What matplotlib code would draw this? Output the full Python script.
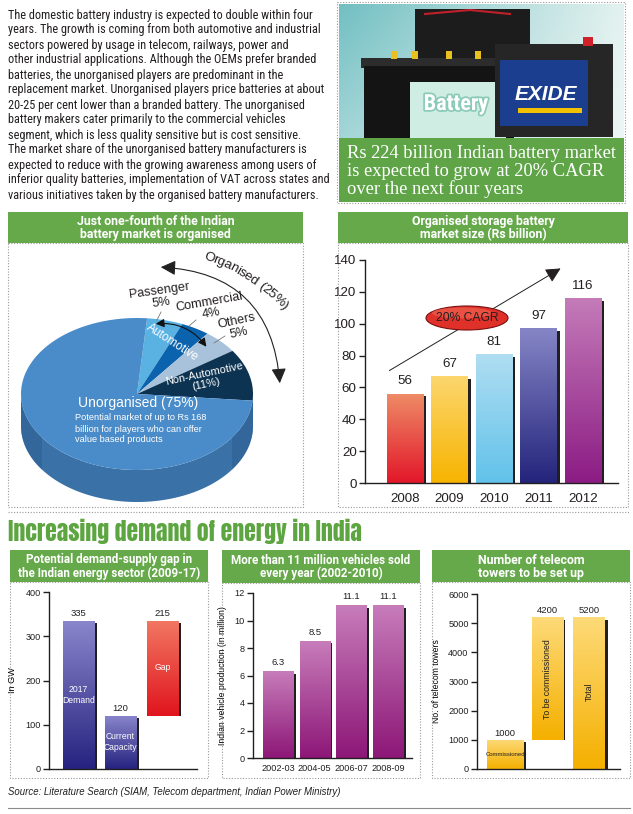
import numpy as np
import matplotlib
matplotlib.use("Agg")
import matplotlib.pyplot as plt
from matplotlib.patches import Rectangle, Polygon, Ellipse, FancyArrowPatch
from matplotlib.colors import to_rgb
from matplotlib.textpath import TextToPath
from matplotlib.font_manager import FontProperties
import matplotlib.patheffects as pe

# ---------------- data ----------------
body_lines = [
    "The domestic battery industry is expected to double within four",
    "years. The growth is coming from both automotive and industrial",
    "sectors powered by usage in telecom, railways, power and",
    "other industrial applications. Although the OEMs prefer branded",
    "batteries, the unorganised players are predominant in the",
    "replacement market. Unorganised players price batteries at about",
    "20-25 per cent lower than a branded battery. The unorganised",
    "battery makers cater primarily to the commercial vehicles",
    "segment, which is less quality sensitive but is cost sensitive.",
    "The market share of the unorganised battery manufacturers is",
    "expected to reduce with the growing awareness among users of",
    "inferior quality batteries, implementation of VAT across states and",
    "various initiatives taken by the organised battery manufacturers.",
]
caption_lines = ["Rs 224 billion Indian battery market",
                 "is expected to grow at 20% CAGR",
                 "over the next four years"]

pie_names = ["Passenger", "Commercial", "Others", "Non-Automotive", "Unorganised"]
pie_shares = [5, 4, 5, 11, 75]
pie_colors = ["#5AB2E2", "#0B63AD", "#A7C2DA", "#0C3352", "#4A8CC9"]

years = ["2008", "2009", "2010", "2011", "2012"]
market = [56, 67, 81, 97, 116]
market_top = ["#EE8C66", "#FCD66E", "#B0DEF2", "#8585C6", "#C47BB8"]
market_bot = ["#E2172A", "#F7B400", "#62C2EA", "#24247C", "#8C1C84"]

energy_cats = ["2017\nDemand", "Current\nCapacity", "Gap"]
energy_vals = [335, 120, 215]

periods = ["2002-03", "2004-05", "2006-07", "2008-09"]
vehicles = [6.3, 8.5, 11.1, 11.1]

tower_cats = ["Commissioned", "To be commissioned", "Total"]
towers = [1000, 4200, 5200]

# ---------------- figure ----------------
W, H = 633, 814
fig = plt.figure(figsize=(W / 100, H / 100), dpi=100)
fig.patch.set_facecolor("white")

NARROW = ["Roboto Condensed", "PT Sans Narrow", "Archivo Narrow", "DejaVu Sans"]
SANS = ["Liberation Sans", "DejaVu Sans"]
HEAD = ["Roboto", "DejaVu Sans"]
TITLE = ["Anton", "Oswald", "DejaVu Sans"]
GREEN = "#66A94A"


def ax_px(x0, y0, x1, y1):
    return fig.add_axes([x0 / W, 1 - y1 / H, (x1 - x0) / W, (y1 - y0) / H])


ov = fig.add_axes([0, 0, 1, 1])
ov.set_xlim(0, W)
ov.set_ylim(H, 0)
ov.axis("off")
ov.set_zorder(5)


def dotted_box(x0, y0, x1, y1):
    ov.add_patch(Rectangle((x0, y0), x1 - x0, y1 - y0, fill=False,
                           ec="#9a9a9a", lw=0.8, ls=(0, (1, 1.5))))


def header(x0, y0, x1, y1, lines, size=8.8):
    ov.add_patch(Rectangle((x0, y0), x1 - x0, y1 - y0, fc=GREEN, ec="none"))
    ov.text((x0 + x1) / 2, (y0 + y1) / 2 + 0.5, "\n".join(lines), ha="center",
            va="center", color="white", fontsize=size, fontweight="bold",
            family=HEAD, linespacing=1.0)


def curved_text(s, p0, p1, p2, size, family, color, zorder=7):
    """Place characters of s along a quadratic Bezier (pixel coords, y down)."""
    fp = FontProperties(family=family, size=size)
    ttp = TextToPath()
    widths = []
    for ch in s:
        w, _, _ = ttp.get_text_width_height_descent(ch if ch != " " else "a", fp, ismath=False)
        widths.append(w * 100 / 72 * (0.6 if ch == " " else 1.0))
    t = np.linspace(0, 1, 400)[:, None]
    P0, P1, P2 = map(np.array, (p0, p1, p2))
    pts = (1 - t) ** 2 * P0 + 2 * (1 - t) * t * P1 + t ** 2 * P2
    seg = np.hypot(*np.diff(pts, axis=0).T)
    cum = np.concatenate([[0], np.cumsum(seg)])
    scale = cum[-1] / sum(widths)
    pos = 0.0
    for ch, w in zip(s, widths):
        c = pos + w * scale / 2
        i = min(np.searchsorted(cum, c), len(pts) - 2)
        x, y = pts[i]
        dx, dy = pts[i + 1] - pts[i]
        ang = -np.degrees(np.arctan2(dy, dx))
        ov.text(x, y, ch, rotation=ang, ha="center", va="center",
                rotation_mode="anchor", fontsize=size, family=family,
                color=color, zorder=zorder)
        pos += w * scale


# ---------------- body text ----------------
for i, line in enumerate(body_lines):
    ov.text(8, 15 + i * 15.0, line, ha="left", va="center", fontsize=8.85,
            family=NARROW, color="#231F20")

# ---------------- photo box ----------------
gx = np.linspace(0, 1, 120)[None, :, None]
gy = np.linspace(0, 1, 60)[:, None, None]
c_left = np.array(to_rgb("#72BFC2"))
c_right = np.array(to_rgb("#E3F2EF"))
img = c_left * (1 - gx) + c_right * gx
img = img * (1 - 0.35 * gy) + np.array([1, 1, 1]) * 0.35 * gy
ov.imshow(img, extent=(339, 624, 138, 4), aspect="auto", zorder=1)
# back battery
ov.add_patch(Rectangle((415, 9), 115, 60, fc="#1C1C1C", ec="none", zorder=2))
ov.plot([425, 470, 510], [14, 10, 14], color="#C0202A", lw=1.5, zorder=3)
# left battery
ov.add_patch(Rectangle((361, 58), 156, 10, fc="#2C2C2C", ec="none", zorder=3))
ov.add_patch(Rectangle((364, 66), 150, 72, fc="#141414", ec="none", zorder=3))
ov.add_patch(Rectangle((410, 82), 96, 56, fc="#CFEDE3", ec="none", zorder=4))
for tx in [394, 415, 449, 478]:
    ov.add_patch(Rectangle((tx - 3, 51), 6, 8, fc="#E8C020", ec="none", zorder=4))
ov.text(456, 104, "Battery", ha="center", va="center", color="white", fontsize=16,
        fontweight="bold", family=NARROW, zorder=5,
        path_effects=[pe.withStroke(linewidth=2.5, foreground="#8CCAB8")])
# exide battery
ov.add_patch(Rectangle((495, 44), 118, 93, fc="#262626", ec="none", zorder=6))
ov.add_patch(Rectangle((500, 60), 88, 66, fc="#1B3E8E", ec="none", zorder=6))
ov.add_patch(Rectangle((518, 108), 64, 5, fc="#F2C200", ec="none", zorder=7))
ov.add_patch(Rectangle((583, 37), 10, 9, fc="#D0202A", ec="none", zorder=7))
ov.text(546, 95, "EXIDE", ha="center", va="center", color="white", fontsize=15,
        fontweight="bold", style="italic", family=SANS, zorder=7)
# caption
ov.add_patch(Rectangle((339, 138), 285, 64, fc="#5FA547", ec="none", zorder=8))
for i, line in enumerate(caption_lines):
    ov.text(347, 153 + i * 18, line, ha="left", va="center", color="white",
            fontsize=13.3, family=["Liberation Serif", "DejaVu Serif"], zorder=9)
dotted_box(337, 2, 625, 203)

# ---------------- pie panel ----------------
header(8, 212, 303, 243, ["Just one-fourth of the Indian", "battery market is organised"])
dotted_box(8, 243, 303, 507)

cx, cy, rx, ry, depth = 137, 394, 116, 76, 32


def rim(t0, t1, n=80):
    t = np.radians(np.linspace(t0, t1, n))
    return np.column_stack([cx + rx * np.cos(t), cy - ry * np.sin(t)])


# side wall (front half)
top_edge = rim(180, 360, 120)
bot_edge = top_edge + np.array([0, depth])
side = np.vstack([top_edge, bot_edge[::-1]])
ov.add_patch(Polygon(side, closed=True, fc="#3A71A7", ec="none", zorder=2))
ov.add_patch(Polygon(np.vstack([rim(180, 215, 30), (rim(180, 215, 30) + [0, depth])[::-1]]),
                     closed=True, fc="#2F6093", ec="none", zorder=2, alpha=0.6))
ov.add_patch(Polygon(np.vstack([rim(325, 360, 30), (rim(325, 360, 30) + [0, depth])[::-1]]),
                     closed=True, fc="#2F6093", ec="none", zorder=2, alpha=0.6))

start = 85.0
cursor = start
for name, share, col in zip(pie_names, pie_shares, pie_colors):
    span = share * 3.6
    t0, t1 = cursor - span, cursor
    pts = np.vstack([[cx, cy], rim(t0, t1, max(int(span), 4))])
    ov.add_patch(Polygon(pts, closed=True, fc=col, ec="none", zorder=3))
    cursor -= span

# organised arc (double headed)
arc = FancyArrowPatch((158, 267), (280, 386), connectionstyle="arc3,rad=-0.45",
                      arrowstyle="<|-|>,head_length=9,head_width=4.5", lw=0.8,
                      color="#222222", zorder=6)
ov.add_patch(arc)
curved_text("Organised (25%)", (204, 256), (244.5, 268.5), (286, 307), 9.6,
            SANS, "#231F20")

ov.text(160, 297, "Passenger\n5%", rotation=8, ha="center", va="center",
        fontsize=9.2, family=SANS, color="#231F20", linespacing=0.95, zorder=7)
ov.text(210, 308, "Commercial\n4%", rotation=10, ha="center", va="center",
        fontsize=9.2, family=SANS, color="#231F20", linespacing=0.95, zorder=7)
ov.text(238, 327, "Others\n5%", rotation=12, ha="center", va="center",
        fontsize=9.2, family=SANS, color="#231F20", linespacing=0.95, zorder=7)
for (x0, y0, x1, y1) in [(161, 312, 157, 320), (196, 320, 189, 326), (225, 336, 214, 343)]:
    ov.plot([x0, x1], [y0, y1], color="#777777", lw=0.6, zorder=7)

ov.text(172, 343, "Automotive", rotation=-33, ha="center", va="center",
        fontsize=8.5, family=SANS, color="white", zorder=7)
auto_arr = FancyArrowPatch((153, 324), (208, 349), connectionstyle="arc3,rad=-0.3",
                           arrowstyle="<|-|>,head_length=5,head_width=2.5", lw=0.8,
                           color="#111111", zorder=7)
ov.add_patch(auto_arr)
ov.text(205, 379, "Non-Automotive\n(11%)", rotation=12, ha="center", va="center",
        fontsize=7.9, family=SANS, color="white", linespacing=0.95, zorder=7)
ov.text(78, 403, "Unorganised (75%)", ha="left", va="center", fontsize=10,
        family=SANS, color="white", zorder=7)
for i, line in enumerate(["Potential market of up to Rs 168",
                          "billion for players who can offer",
                          "value based products"]):
    ov.text(75, 418 + i * 11, line, ha="left", va="center", fontsize=6.6,
            family=SANS, color="white", zorder=7)


# ---------------- bar helpers ----------------
def grad_bars(ax, xs, heights, bottoms, widths, tops, bots, dx, dy):
    xs = np.asarray(xs, float)
    heights = np.asarray(heights, float)
    bottoms = np.asarray(bottoms, float)
    ax.bar(xs + dx, heights - dy, bottom=bottoms - dy * 0.3, width=widths,
           color="#231F20", zorder=1.5, linewidth=0)
    bars = ax.bar(xs, heights, bottom=bottoms, width=widths, color=bots,
                  zorder=2, linewidth=0)
    for p, ct, cb in zip(bars.patches, tops, bots):
        x, y, w, h = p.get_x(), p.get_y(), p.get_width(), p.get_height()
        c0, c1 = np.array(to_rgb(ct)), np.array(to_rgb(cb))
        g = np.linspace(0, 1, 100)[:, None, None]
        im = ax.imshow(c0 * (1 - g) + c1 * g, extent=(x, x + w, y, y + h),
                       aspect="auto", origin="upper", zorder=2.1,
                       interpolation="bilinear")
        im.set_clip_path(p)
    return bars


def style_axes(ax, fs):
    for s in ["top", "right"]:
        ax.spines[s].set_visible(False)
    for s in ["left", "bottom"]:
        ax.spines[s].set_color("#231F20")
        ax.spines[s].set_linewidth(1.0)
    ax.tick_params(axis="y", length=4, width=1, labelsize=fs, colors="#231F20",
                   pad=2)
    ax.tick_params(axis="x", length=0, labelsize=fs, colors="#231F20")
    ax.patch.set_alpha(0)
    for lab in ax.get_xticklabels() + ax.get_yticklabels():
        lab.set_family(SANS)


# ---------------- market bar chart ----------------
header(338, 212, 628, 243, ["Organised storage battery", "market size (Rs billion)"])
dotted_box(338, 243, 628, 507)
ax1 = ax_px(365, 260, 618, 483)
xs = np.arange(len(years))
grad_bars(ax1, xs, market, np.zeros(len(years)), 0.81, market_top, market_bot,
          0.07, 1.3)
ax1.set_xlim(-0.9, 4.79)
ax1.set_ylim(0, 140)
ax1.set_yticks(np.arange(0, 141, 20))
ax1.set_xticks(xs)
ax1.set_xticklabels(years)
style_axes(ax1, 9.6)
ax1.tick_params(axis="x", pad=7)
for x, v in zip(xs, market):
    ax1.text(x, v + 4, str(v), ha="center", va="bottom", fontsize=9.6,
             family=SANS, color="#231F20")
ov.annotate("", xy=(563, 267), xytext=(387, 372),
            arrowprops=dict(arrowstyle="-|>,head_length=0.9,head_width=0.45",
                            color="#231F20", lw=0.7), zorder=6)
ell = Ellipse((467, 318), 82, 24, fc="#E0302A", ec="#7A1010", lw=0.8, zorder=7)
ov.add_patch(ell)
ell_hi = Ellipse((462, 313), 60, 11, fc="#F06A55", ec="none", zorder=7, alpha=0.6)
ov.add_patch(ell_hi)
ov.text(467, 318, "20% CAGR", ha="center", va="center", fontsize=8.7,
        family=SANS, color="#231F20", zorder=8)

# ---------------- section title ----------------
ov.plot([8, 630], [512, 512], color="#9a9a9a", lw=0.8, ls=(0, (1, 1.5)))
ov.text(8, 531, "Increasing demand of energy in India", ha="left", va="center",
        fontsize=17.0, family=TITLE, color="#5DA540")

# ---------------- energy gap chart ----------------
header(10, 550, 208, 582, ["Potential demand-supply gap in",
                           "the Indian energy sector (2009-17)"], size=8.4)
dotted_box(10, 582, 208, 778)
ax2 = ax_px(49, 592, 197, 769)
ex = np.arange(3)
e_bottoms = [0, 0, energy_vals[1]]
e_heights = [energy_vals[0], energy_vals[1], energy_vals[2]]
grad_bars(ax2, ex, e_heights, e_bottoms, 0.74,
          ["#8A86CC", "#8A86CC", "#F27862"], ["#25237F", "#25237F", "#E0141E"],
          0.07, 4)
ax2.set_xlim(-0.70, 2.82)
ax2.set_ylim(0, 400)
ax2.set_yticks([0, 100, 200, 300, 400])
ax2.set_xticks([])
style_axes(ax2, 6.6)
ax2.set_ylabel("In GW", fontsize=6.6, family=SANS, labelpad=6)
for x, b, h, v in zip(ex, e_bottoms, e_heights, energy_vals):
    ax2.text(x, b + h + 6, str(v), ha="center", va="bottom", fontsize=6.8,
             family=SANS, color="#231F20")
for x, y, t in zip(ex, [167, 61, 230], energy_cats):
    ax2.text(x, y, t, ha="center", va="center", fontsize=6.2, family=SANS,
             color="white", linespacing=1.3, zorder=4)

# ---------------- vehicle chart ----------------
header(222, 550, 420, 583, ["More than 11 million vehicles sold",
                            "every year (2002-2010)"], size=8.4)
dotted_box(222, 583, 420, 778)
ax3 = ax_px(253, 593, 412, 758)
vx = np.arange(len(periods))
grad_bars(ax3, vx, vehicles, np.zeros(len(periods)), 0.82,
          ["#C77CBA"] * 4, ["#8D1777"] * 4, 0.07, 0.12)
ax3.set_xlim(-0.68, 3.65)
ax3.set_ylim(0, 12)
ax3.set_yticks(np.arange(0, 13, 2))
ax3.set_xticks(vx)
ax3.set_xticklabels(periods)
style_axes(ax3, 6.6)
ax3.tick_params(axis="x", pad=4)
ax3.set_ylabel("Indian vehicle production (in million)", fontsize=6.2,
               family=SANS, labelpad=5)
for x, v in zip(vx, vehicles):
    ax3.text(x, v + 0.3, f"{v}", ha="center", va="bottom", fontsize=6.8,
             family=SANS, color="#231F20")

# ---------------- telecom towers chart ----------------
header(432, 550, 630, 582, ["Number of telecom", "towers to be set up"], size=8.9)
dotted_box(432, 582, 630, 778)
ax4 = ax_px(477, 594, 620, 769)
tx = np.arange(3)
t_bottoms = [0, towers[0], 0]
grad_bars(ax4, tx, towers, t_bottoms, [0.86, 0.74, 0.76],
          ["#FDDA78"] * 3, ["#F5B000"] * 3, 0.07, 60)
ax4.set_xlim(-0.67, 2.74)
ax4.set_ylim(0, 6000)
ax4.set_yticks(np.arange(0, 6001, 1000))
ax4.set_xticks([])
style_axes(ax4, 6.6)
ax4.set_ylabel("No. of telecom towers", fontsize=6.2, family=SANS, labelpad=5)
for x, b, v in zip(tx, t_bottoms, towers):
    ax4.text(x, b + v + 80, str(v), ha="center", va="bottom", fontsize=6.8,
             family=SANS, color="#231F20")
ax4.text(tx[0], 500, tower_cats[0], ha="center", va="center", fontsize=4.3,
         family=SANS, color="#231F20", zorder=4)
ax4.text(tx[1], 3086, tower_cats[1], ha="center", va="center", rotation=90,
         fontsize=6.3, family=SANS, color="#231F20", zorder=4)
ax4.text(tx[2], 2640, tower_cats[2], ha="center", va="center", rotation=90,
         fontsize=6.3, family=SANS, color="#231F20", zorder=4)

# ---------------- source ----------------
ov.text(8, 792, "Source: Literature Search (SIAM, Telecom department, Indian Power Ministry)",
        ha="left", va="center", fontsize=6.9, style="italic", family=SANS,
        color="#231F20")
ov.plot([8, 630], [808, 808], color="#8a8a8a", lw=0.8)

fig.savefig("out.png", dpi=100, facecolor="white")
